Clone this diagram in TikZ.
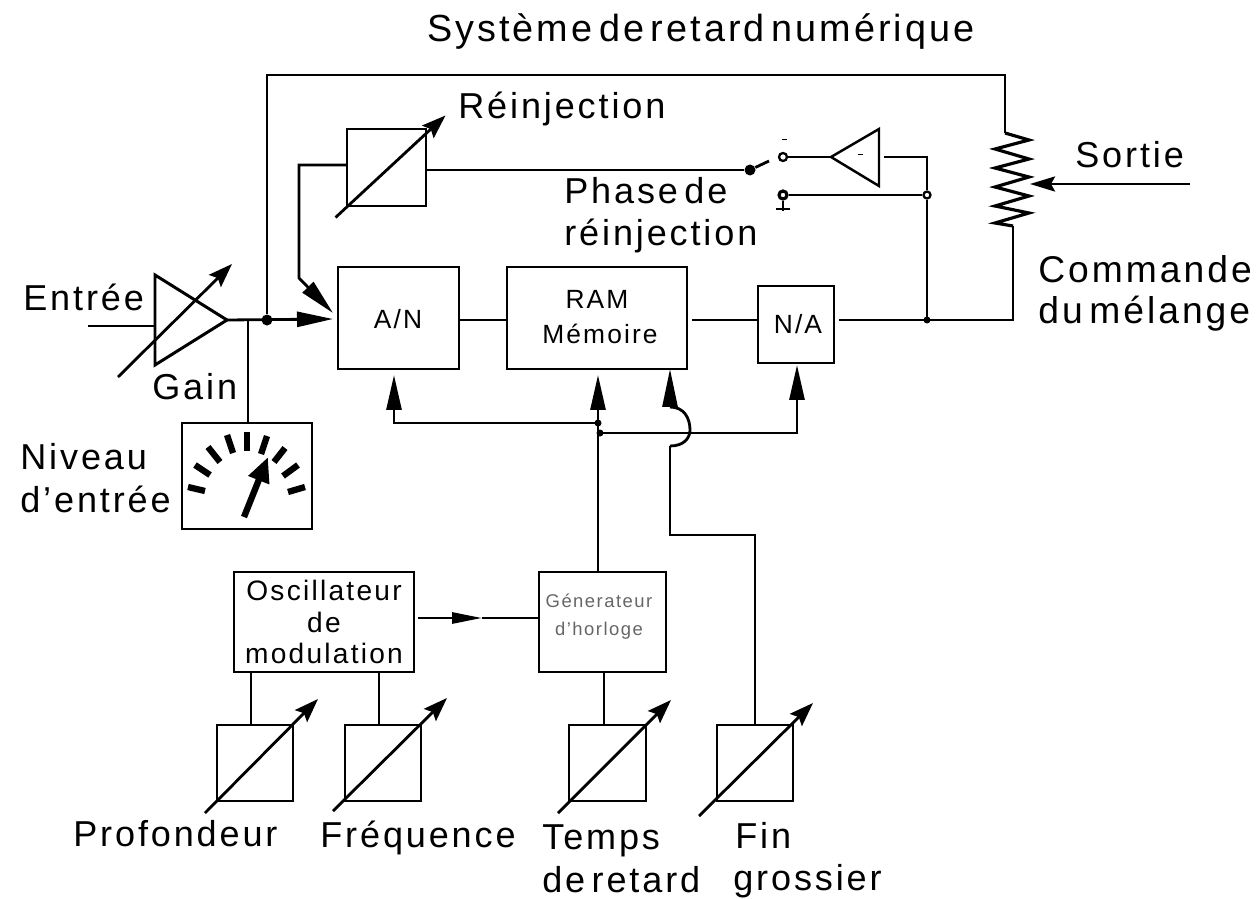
\documentclass[tikz,border=0pt]{standalone}
\usepackage{fontspec}
\setmainfont[LetterSpace=8,WordSpace=0.5]{Liberation Sans}
\usetikzlibrary{arrows.meta}
\tikzset{
  x=0.02cm,y=-0.02cm,
  wire/.style={line width=1.6pt,line join=miter},
  bx/.style 2 args={draw,line width=1.6pt,inner sep=0pt,outer sep=0pt,minimum width=#1*0.02cm,minimum height=#2*0.02cm,align=center},
  lab/.style={inner sep=0pt,anchor=base west,font=\fontsize{20.5}{25}\selectfont},
  biglab/.style={inner sep=0pt,anchor=base west,font=\fontsize{21.2}{25}\selectfont},
  midlab/.style={inner sep=0pt,anchor=base,font=\fontsize{15}{20}\selectfont},
  bigtip/.style={-{Triangle[length=0.72cm,width=0.3cm]}},
  tip/.style={-{Triangle[length=0.7cm,width=0.3cm]}},
  dialtip/.style={-{Stealth[length=0.48cm,width=0.34cm,inset=0.08cm]}},
  dot/.style={circle,fill=black,inner sep=0pt,minimum size=0.22cm},
  hole/.style={circle,draw,fill=white,line width=1.3pt,inner sep=0pt,minimum size=0.16cm},
  tick/.style={line width=3.6pt}
}
\newcommand{\potdial}[5]{\draw[wire,dialtip] ([shift={(#2,#3)}]#1.center) -- ([shift={(#4,#5)}]#1.center);}
\begin{document}
\begin{tikzpicture}
\useasboundingbox (0,0) rectangle (1258,899);
% labels
\node[biglab,font=\fontsize{21.5}{25}\selectfont] (t) at (427,41) {Système de retard numérique};
\node[lab] (r) at (458,118) {Réinjection};
\node[lab] (s) at (1075,167) {Sortie};
\node[lab] (ph1) at (564,203) {Phase de};
\node[lab] (ph2) at (564,245) {réinjection};
\node[biglab] (cm1) at (1038,282) {Commande};
\node[biglab] (cm2) at (1038,323) {du mélange};
\node[lab] (e) at (23,310) {Entrée};
\node[lab] (g) at (152,399) {Gain};
\node[lab] (ne1) at (20,469) {Niveau};
\node[lab] (ne2) at (20,512) {d'entrée};
\node[lab] (pr) at (73,846) {Profondeur};
\node[lab] (fr) at (320,847) {Fréquence};
\node[lab] (te) at (542,849) {Temps};
\node[lab] (de) at (542,892) {de retard};
\node[lab] (fi) at (735,848) {Fin};
\node[lab] (gr) at (733,890) {grossier};
% main boxes
\node[bx={121}{102}] (an) at (398.5,318) {};
\node[midlab] (ant) at (398,328) {A/N};
\node[bx={180}{102}] (ram) at (597,318) {};
\node[midlab] (ramt) at (597,308) {RAM};
\node[midlab] (ramu) at (600,343) {Mémoire};
\node[bx={76}{77}] (na) at (796,324.5) {};
\node[midlab] (nat) at (798,333) {N/A};
\node[bx={79}{77}] (fb) at (386.5,167.5) {};
\node[bx={130}{106}] (mt) at (247,476) {};
\node[bx={180}{100},align=center,font=\fontsize{16}{18}\selectfont] (os) at (324,622) {Oscillateur\\de\\modulation};
\node[bx={127}{100}] (ge) at (602.5,622) {};
\node[text=black!60,inner sep=0pt,align=center,font=\fontsize{10.5}{16}\selectfont] (get) at (599,617) {Génerateur\\d'horloge};
% pots
\node[bx={76}{76}] (p1) at (255,763) {};
\node[bx={76}{76}] (p2) at (383,763) {};
\node[bx={77}{76}] (p3) at (607.5,763) {};
\node[bx={76}{76}] (p4) at (755,763) {};
\potdial{p1}{-50}{50}{63}{-64}
\potdial{p2}{-50}{48}{64}{-65}
\potdial{p3}{-49.5}{50}{63.5}{-63}
\potdial{p4}{-56}{53}{58}{-60}
\potdial{fb}{-51}{50}{59}{-52}
% input amp
\node[draw=none,inner sep=0pt,minimum size=0pt] (ampout) at (227,320) {};
\coordinate (ampin) at (155,326);
\coordinate (infree) at (88,326);
\draw[line width=1.7pt,line join=miter] (155,275) -- (155,365) -- (ampout.center) -- cycle;
\draw[wire] (infree) -- (ampin);
\draw[wire,dialtip] (118,377) -- (232,264);
\coordinate (anin) at (333,319);
\node[dot] (jn) at (267,320) {};
\coordinate (mtj) at (248,320);
\draw[wire,bigtip] (ampout.center) -- (anin);
\draw[wire] (mtj) -- (mtj |- mt.north);
% top loop and resistor
\coordinate (rtop) at (1005,133);
\coordinate (rbot) at (1013,226);
\draw[wire] (jn) -- (jn |- 0,75) -- (rtop |- 0,75) -- (rtop);
\draw[line width=1.8pt,line join=miter] (rtop) -- (1029,140) -- (995,149) -- (1029,159) -- (995,168) -- (1029,177) -- (995,187) -- (1029,196) -- (995,206) -- (1029,213) -- (995,223) -- (rbot);
\coordinate (rout) at (1013,320);
\coordinate (naout) at (839,320);
\draw[wire] (rbot) -- (rout) -- (naout);
\coordinate (sfree) at (1190,184);
\coordinate (stip) at (1030,184);
\draw[wire,-{Stealth[length=0.5cm,width=0.3cm,inset=0.08cm]}] (sfree) -- (stip);
% block chain
\coordinate (ramout) at (692,320);
\draw[wire] (an.east |- 0,320) -- (ram.west |- 0,320);
\draw[wire] (ramout) -- (na.west |- ramout);
% feedback
\coordinate (fbl) at (299,165);
\coordinate (fbm) at (299,278);
\draw[wire,bigtip] (fb.west |- fbl) -- (fbl) -- (fbm) -- (333,313);
% phase switch
\node[dot,minimum size=0.22cm] (sw) at (750,170) {};
\node[hole] (c1) at (783,157) {};
\node[hole,line width=1.8pt] (c2) at (783,195) {};
\draw[wire] (fb.east |- sw) -- (sw);
\draw[wire] (sw) -- (769,161);
\node[inner sep=0pt] (mn1) at (784,139) {\rule{0.1cm}{0.5pt}};
\coordinate (ampa) at (831,157);
\coordinate (ampb) at (879,186);
\draw[line width=1.4pt,line join=miter] (ampa) -- (879,129) -- (ampb) -- cycle;
\node[inner sep=0pt] (mn2) at (860,154) {\rule{0.1cm}{0.5pt}};
\draw[wire] (c1) -- (ampa);
\coordinate (gnd) at (783,211);
\draw[line width=0.7pt] (c2) -- (gnd);
\draw[line width=0.7pt] (776,209) -- (790,209);
\coordinate (ampo) at (884,157);
\coordinate (jc) at (927,157);
\node[hole,minimum size=0.14cm] (j2) at (927,195) {};
\coordinate (j3) at (927,320);
\draw[wire] (ampo) -- (jc) -- (j2) -- (j3);
\draw[wire] (c2) -- (j2);
\node[dot,minimum size=0.14cm] (j3d) at (j3) {};
% meter
\foreach \a/\b/\c/\d in {188/487/205/491,195/465/210/475,208/447/220/462,227/435/233/453,247/432/247/451,267/436/261/454,285/448/274/462,298/465/283/476,305/487/288/492}
  \draw[tick] (\a,\b) -- (\c,\d);
\draw[line width=3.6pt,-{Triangle[length=0.5cm,width=0.42cm]}] (244,517) -- (268,457);
% clock
\coordinate (cka) at (598,423);
\coordinate (ckb) at (600,433);
\coordinate (ramtip) at (598,375);
\draw[wire,tip] (ge.north -| ramtip) -- (ramtip);
\draw[wire,tip] (cka) -- (394,423) -- (394,375);
\draw[wire,tip] (ckb) -- (797,433) -- (797,365);
\node[dot,minimum size=0.14cm] (dka) at (cka) {};
\node[dot,minimum size=0.14cm] (dkb) at (ckb) {};
% fine / coarse
\coordinate (fa) at (670,407);
\coordinate (fb2) at (670,446);
\coordinate (fc) at (670,535);
\coordinate (fd) at (755,535);
\draw[wire] (fb2) .. controls (684,446) and (690,438) .. (690,430) .. controls (690,418) and (684,407) .. (fa);
\draw[wire,-{Triangle[length=0.76cm,width=0.3cm]}] (fa) -- (670,369);
\draw[wire] (fb2) -- (fc) -- (fd) -- (p4.north -| fd);
% lower connections
\coordinate (oso) at (418,618);
\coordinate (osm) at (482,618);
\draw[wire,-{Triangle[length=0.6cm,width=0.22cm]}] (oso) -- (osm);
\draw[wire] (osm) -- (ge.west |- osm);
\draw[wire] (251,672) -- (p1.north -| 251,672);
\draw[wire] (379,672) -- (p2.north -| 379,672);
\draw[wire] (604,672) -- (p3.north -| 604,672);
\end{tikzpicture}
\end{document}
